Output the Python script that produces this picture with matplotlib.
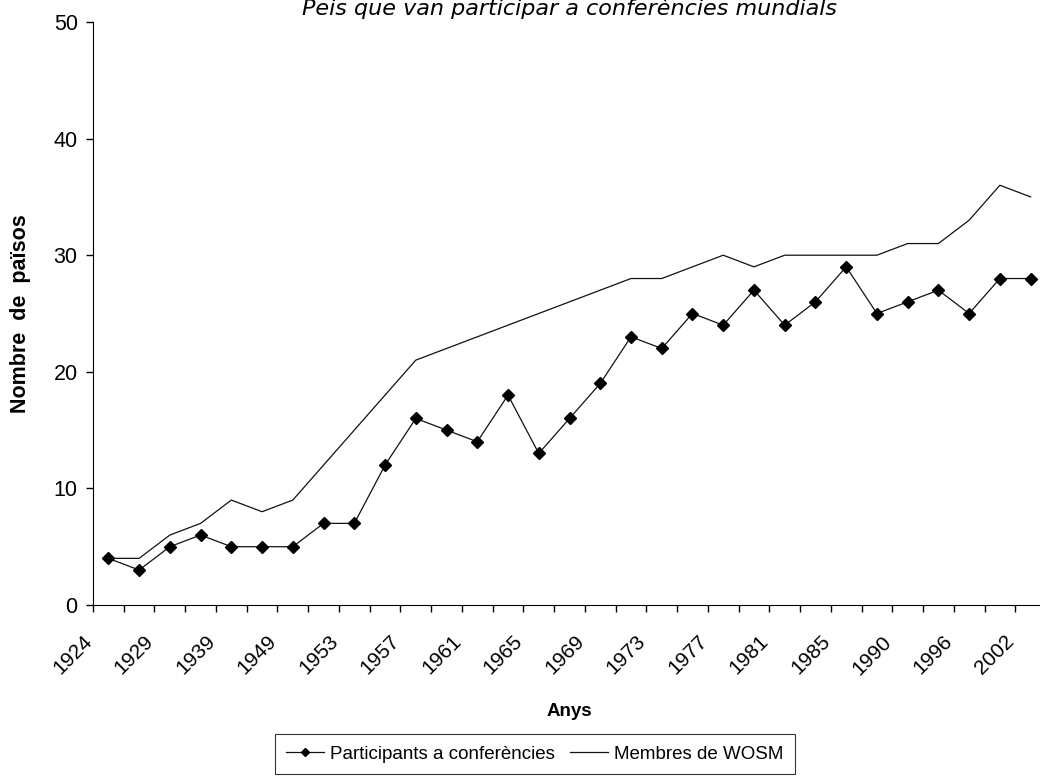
import numpy as np
import matplotlib
matplotlib.use("Agg")
import matplotlib.pyplot as plt
from matplotlib.ticker import FixedLocator, NullLocator
from matplotlib.transforms import ScaledTranslation, blended_transform_factory

# Conference years (only every other one is labelled on the axis)
years = [1924, 1926, 1929, 1933, 1939, 1947, 1949, 1951, 1953, 1955,
         1957, 1959, 1961, 1963, 1965, 1967, 1969, 1971, 1973, 1975,
         1977, 1979, 1981, 1983, 1985, 1988, 1990, 1993, 1996, 1999, 2002]

participants = [4, 3, 5, 6, 5, 5, 5, 7, 7, 12,
                16, 15, 14, 18, 13, 16, 19, 23, 22, 25,
                24, 27, 24, 26, 29, 25, 26, 27, 25, 28, 28]

members = [4, 4, 6, 7, 9, 8, 9, 12, 15, 18,
           21, 22, 23, 24, 25, 26, 27, 28, 28, 29,
           30, 29, 30, 30, 30, 30, 31, 31, 33, 36, 35]

plt.rcParams["font.family"] = ["Liberation Sans", "DejaVu Sans"]

fig = plt.figure(figsize=(10.4, 7.8), dpi=100)
ax = fig.add_axes([93 / 1040, 1 - 605 / 780, (1046 - 93) / 1040, (605 - 22) / 780])

x = np.arange(len(years))
ax.plot(x, participants, color="#111111", lw=0.9, marker="D", markersize=6.5,
        markerfacecolor="black", markeredgecolor="black",
        label="Participants a conferències", clip_on=False)
ax.plot(x, members, color="#111111", lw=0.9, label="Membres de WOSM", clip_on=False)

ax.set_xlim(-0.5, len(years) - 0.5)
ax.set_ylim(0, 50)
ax.set_yticks(range(0, 51, 10))

# tick marks on category boundaries
ax.xaxis.set_major_locator(FixedLocator(np.arange(-0.5, len(years), 1)))
ax.xaxis.set_minor_locator(NullLocator())
ax.set_xticklabels([])
ax.tick_params(axis="x", length=5, width=1, direction="out")
ax.tick_params(axis="y", length=5, width=1, direction="out", labelsize=15.5, pad=6)

# year labels on every other category, Excel-style placement
trans = blended_transform_factory(ax.transData, ax.transAxes) + \
    ScaledTranslation(-26 / 100, -27 / 100, fig.dpi_scale_trans)
for i, yr in zip(x[::2], years[::2]):
    ax.text(i, 0, str(yr), transform=trans, rotation=45, ha="right", va="top",
            rotation_mode="anchor", fontsize=15, clip_on=False)

for s in ["top", "right"]:
    ax.spines[s].set_visible(False)

ax.set_xlabel("Anys", fontsize=13.5, fontweight="bold", labelpad=62)
ax.set_ylabel("Nombre  de  països", fontsize=15.5, fontweight="bold", labelpad=16)

fig.text(570 / 1040, 1 - 15 / 780, "Peis que van participar a conferències mundials",
         family="DejaVu Sans", style="italic", fontsize=16, ha="center", va="baseline")

leg = fig.legend(loc="center", bbox_to_anchor=(535 / 1040, 1 - 754 / 780), ncol=2,
                 fontsize=13.5, frameon=True, fancybox=False, edgecolor="black",
                 handlelength=2.0, handletextpad=0.35, columnspacing=0.8,
                 borderpad=0.6, markerscale=0.6)
leg.get_frame().set_linewidth(0.8)

fig.savefig("out.png", dpi=100)
